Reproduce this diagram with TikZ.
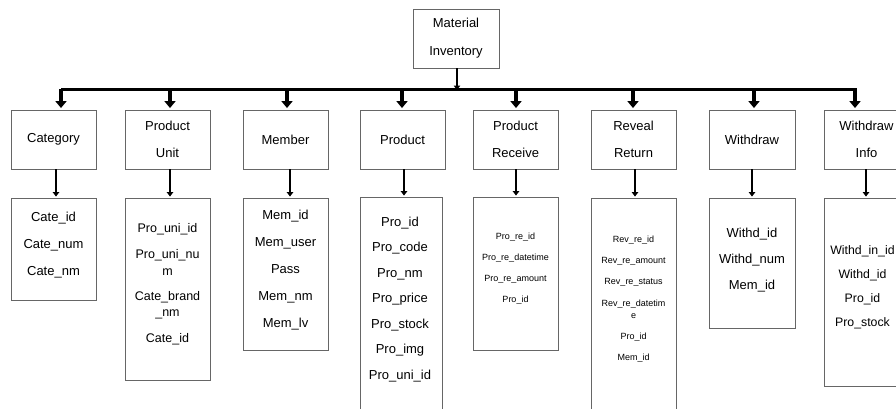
\documentclass[tikz,border=0pt]{standalone}
\usepackage{fontspec}
\setmainfont{Liberation Sans}
\usetikzlibrary{arrows.meta}
\tikzset{
  box/.style={draw=black!60, line width=0.9pt, rectangle, inner sep=0pt},
  hdr/.style={box, minimum width=85pt, minimum height=59pt, font=\fontsize{13}{27}\selectfont, align=center},
  attrbox/.style={box, minimum width=85pt},
  attr/.style={font=\fontsize{13}{26}\selectfont, align=center, anchor=north, inner sep=0pt},
  smallattr/.style={font=\fontsize{9}{21}\selectfont, align=center, anchor=north, inner sep=0pt},
  bigarrow/.style={line width=4pt, -{Triangle[width=11pt,length=7pt]}, shorten >=1.5pt},
  thinarrow/.style={line width=2.6pt, -{Triangle[width=6.5pt,length=4.5pt]}, shorten >=1pt},
  bar/.style={line width=3pt}
}
\begin{document}
\begin{tikzpicture}[x=1pt, y=-1pt]
\useasboundingbox (0,0) rectangle (896,408);
\clip (0,0) rectangle (896,408);

% root
\node[box, minimum width=86pt, minimum height=59pt, font=\fontsize{13}{28}\selectfont, align=center] (mi) at (456,38.5) {Material\\Inventory};

% distribution bar
\coordinate (barL) at (61,89);
\coordinate (barR) at (857,89);
\draw[bar] (barL) -- (barR);
\draw[thinarrow, shorten >=-1pt] ([xshift=1pt]mi.south) -- ([xshift=1pt]mi.south |- barL);

% table headers
\node[hdr] (hcat) at (53.5,139.5) {Category};
\node[hdr] (hpu)  at (167.5,139.5) {Product\\Unit};
\node[hdr] (hmem) at (285.5,139.5) {Member};
\node[hdr] (hpro) at (402.5,139.5) {Product};
\node[hdr] (hpr)  at (515.5,139.5) {Product\\Receive};
\node[hdr] (hrr)  at (633.5,139.5) {Reveal\\Return};
\node[hdr, minimum width=86pt] (hw) at (752,139.5) {Withdraw};
\node[hdr] (hwi)  at (866.5,139.5) {Withdraw\\Info};

% arrows from bar to headers
\coordinate (t1) at (61,89);
\coordinate (t2) at (170,89);
\coordinate (t3) at (287,89);
\coordinate (t4) at (402,89);
\coordinate (t5) at (516,89);
\coordinate (t6) at (633,89);
\coordinate (t7) at (754,89);
\coordinate (t8) at (855,89);
\draw[bigarrow] (t1) -- (t1 |- hcat.north);
\draw[bigarrow] (t2) -- (t2 |- hpu.north);
\draw[bigarrow] (t3) -- (t3 |- hmem.north);
\draw[bigarrow] (t4) -- (t4 |- hpro.north);
\draw[bigarrow] (t5) -- (t5 |- hpr.north);
\draw[bigarrow] (t6) -- (t6 |- hrr.north);
\draw[bigarrow] (t7) -- (t7 |- hw.north);
\draw[bigarrow] (t8) -- (t8 |- hwi.north);

% attribute boxes
\node[attrbox, minimum height=102pt] (acat) at (53.5,249) {};
\node[attrbox, minimum height=182pt] (apu)  at (167.5,289) {};
\node[attrbox, minimum height=152pt] (amem) at (285.5,274) {};
\node[attrbox, minimum width=82pt, minimum height=228pt] (apro) at (401,311) {};
\node[attrbox, minimum height=153pt] (apr)  at (515.5,273.5) {};
\node[attrbox, minimum height=227pt] (arr)  at (633.5,311.5) {};
\node[attrbox, minimum width=86pt, minimum height=130pt] (aw) at (752,263) {};
\node[attrbox, minimum height=188pt] (awi)  at (866.5,292) {};

% attribute lists
\node[attr, font=\fontsize{13}{27}\selectfont] at ([yshift=-14pt]acat.north) {Cate\_id\\Cate\_num\\Cate\_nm};
\node[attr, font=\fontsize{12.5}{16.5}\selectfont] at ([yshift=-26pt]apu.north) {Pro\_uni\_id\\[9.5pt]Pro\_uni\_nu\\m\\[8.5pt]Cate\_brand\\\_nm\\[9.5pt]Cate\_id};
\node[attr, font=\fontsize{13}{27}\selectfont] at ([yshift=-12pt]amem.north) {Mem\_id\\Mem\_user\\Pass\\Mem\_nm\\Mem\_lv};
\node[attr, font=\fontsize{13}{25.5}\selectfont] at ([xshift=-1pt,yshift=-20pt]apro.north) {Pro\_id\\Pro\_code\\Pro\_nm\\Pro\_price\\Pro\_stock\\Pro\_img\\Pro\_uni\_id};
\node[smallattr] at ([yshift=-36pt]apr.north) {Pro\_re\_id\\Pro\_re\_datetime\\Pro\_re\_amount\\Pro\_id};
\node[smallattr, font=\fontsize{9}{12}\selectfont] at ([yshift=-38pt]arr.north) {Rev\_re\_id\\[9.3pt]Rev\_re\_amount\\[9.3pt]Rev\_re\_status\\[9.3pt]Rev\_re\_datetim\\e\\[9.3pt]Pro\_id\\[9.3pt]Mem\_id};
\node[attr] at ([yshift=-30pt]aw.north) {Withd\_id\\Withd\_num\\Mem\_id};
\node[attr, font=\fontsize{12.3}{24}\selectfont] at ([xshift=-4pt,yshift=-48pt]awi.north) {Withd\_in\_id\\Withd\_id\\Pro\_id\\Pro\_stock};

% arrows from headers to attribute boxes
\draw[thinarrow] ([xshift=2.5pt]hcat.south) -- ([xshift=2.5pt]hcat.south |- acat.north);
\draw[thinarrow] ([xshift=2.5pt]hpu.south) -- ([xshift=2.5pt]hpu.south |- apu.north);
\draw[thinarrow] ([xshift=4.5pt]hmem.south) -- ([xshift=4.5pt]hmem.south |- amem.north);
\draw[thinarrow] ([xshift=1.5pt]hpro.south) -- ([xshift=1.5pt]hpro.south |- apro.north);
\draw[thinarrow] ([xshift=0.5pt]hpr.south) -- ([xshift=0.5pt]hpr.south |- apr.north);
\draw[thinarrow] ([xshift=1.5pt]hrr.south) -- ([xshift=1.5pt]hrr.south |- arr.north);
\draw[thinarrow] (hw.south) -- (hw.south |- aw.north);
\draw[thinarrow] ([xshift=-0.5pt]hwi.south) -- ([xshift=-0.5pt]hwi.south |- awi.north);
\end{tikzpicture}
\end{document}
